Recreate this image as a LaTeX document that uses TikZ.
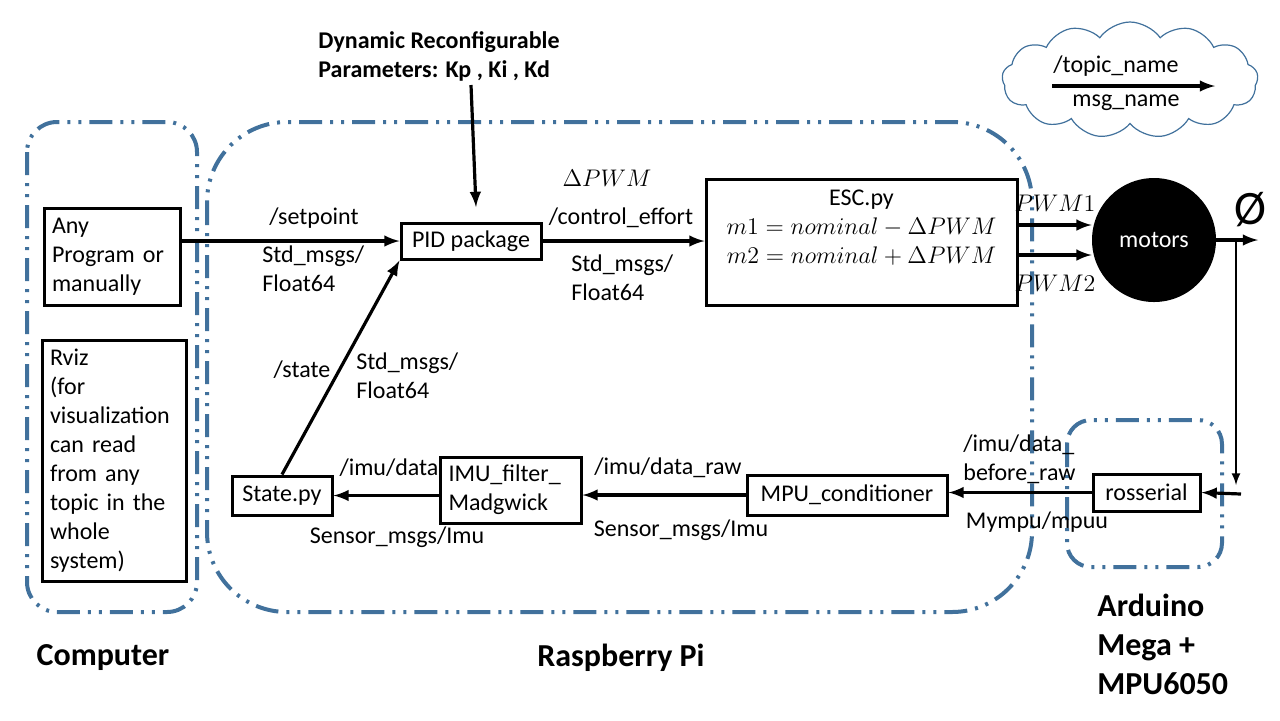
\documentclass[tikz,border=0pt]{standalone}
\usepackage{fontspec}
\setmainfont{Carlito}
\usetikzlibrary{calc,shapes.symbols}
\definecolor{frameblue}{RGB}{65,113,156}

\tikzset{
  box/.style={draw, line width=1.5pt, inner sep=2pt},
  arr/.style={-latex, line width=1.6pt},
  region/.style={draw=frameblue, line width=2pt, dash pattern=on 11.5pt off 4pt on 1.5pt off 4pt on 1.5pt off 4pt},
  lbl/.style={inner sep=0pt, align=left},
  title/.style={font=\bfseries\fontsize{16}{19.5}\selectfont, align=left, inner sep=0pt},
}

\begin{document}
\begin{tikzpicture}[x=0.5pt, y=-0.5pt, every node/.style={font=\fontsize{12}{14.5}\selectfont}]
\useasboundingbox (0,0) rectangle (1280,720);

% hardware areas
\draw[region, rounded corners=15pt] (27,122) rectangle (197,612);
\draw[region, rounded corners=40pt] (207,122) rectangle (1032,612);
\draw[region, rounded corners=12pt] (1067,420) rectangle (1222,567);

\node[title] (tComp) at (103,658) {Computer};
\node[title] (tRpi) at (621,658) {Raspberry Pi};
\node[title, anchor=west] (tArd) at (1097,644) {Arduino\\Mega +\\MPU6050};

% ros nodes
\node[box, minimum width=68pt, minimum height=48.5pt, text width=60pt, align=left] (prog) at (112,256.5) {Any\\Program or\\manually};
\node[box, minimum width=72pt, minimum height=120.5pt, text width=64pt, align=left] (rviz) at (114,460.5) {Rviz\\(for\\visualization\\can read\\from any\\topic in the\\whole\\system)};
\node[box, minimum width=70pt, minimum height=18pt] (pid) at (471,241) {PID package};
\node[box, minimum width=155.5pt, minimum height=63pt] (esc) at (861.5,242) {};
\node[align=center, inner sep=0pt] (esctxt) at (861.5,228) {ESC.py\\$m1 = nominal - \Delta PWM$\\$m2 = nominal + \Delta PWM$};
\node[circle, fill=black, minimum size=62pt, inner sep=0pt, text=white] (motors) at (1154,240) {motors};
\node[box, minimum width=50pt, minimum height=19.5pt] (state) at (282,495.5) {State.py};
\node[box, minimum width=70.5pt, minimum height=33pt, text width=62pt, align=left] (imuf) at (510.5,490) {IMU\_filter\_\\Madgwick};
\node[box, minimum width=100pt, minimum height=20pt] (mpu) at (847,495) {MPU\_conditioner};
\node[box, minimum width=53.5pt, minimum height=18.5pt] (ross) at (1146.5,492.5) {rosserial};

% legend
\node[cloud, draw=frameblue, line width=0.6pt, cloud puffs=13, cloud puff arc=110, cloud ignores aspect, minimum width=128pt, minimum height=58pt] (legend) at (1130,80) {};
\node[lbl] (topic) at (1116,66) {/topic\_name};
\node[lbl] (msg) at (1126,103) {msg\_name};
\coordinate (lgA) at (1052,86);
\coordinate (lgB) at (1215,86);
\draw[arr] (lgA) -- (lgB);

% gains
\node[font=\bfseries\fontsize{12}{14.5}\selectfont, align=left, inner sep=0pt, anchor=west] (dyn) at (318,56) {Dynamic Reconfigurable\\Parameters: Kp , Ki , Kd};
\coordinate (kgain) at (471,85);
\coordinate (pidtop) at (476,207);
\draw[arr] (kgain) -- (pidtop);

% topics
\draw[arr] (prog.east |- pid.west) -- (pid.west);
\node[lbl] (spTopic) at (314,218) {/setpoint};
\node[lbl, anchor=west] (spMsg) at (262,269) {Std\_msgs/\\Float64};

\draw[arr] (pid.east) -- (pid.east -| esc.west);
\node[lbl] (dpwm) at (607,178) {$\Delta PWM$};
\node[lbl] (ceTopic) at (621,218) {/control\_effort};
\node[lbl, anchor=west] (ceMsg) at (571,278) {Std\_msgs/\\Float64};

\coordinate (pwmA) at ($(motors.west)+(0,-15)$);
\coordinate (pwmB) at ($(motors.west)+(0,15)$);
\draw[arr] (pwmA -| esc.east) -- (pwmA);
\draw[arr] (pwmB -| esc.east) -- (pwmB);
\node[lbl] (pwm1) at (1055,203) {$PWM1$};
\node[lbl] (pwm2) at (1055,283) {$PWM2$};

\coordinate (phi) at (1258,240);
\draw[arr] (motors.east) -- (phi);
\node[lbl, font=\fontsize{24}{24}\selectfont] (phisym) at (1250,210) {Ø};
\coordinate (tap) at (1236,240);
\coordinate (drop) at (1236,485);
\draw[-latex, line width=1pt] (tap) -- (drop);
\coordinate (feed) at (1241,494);
\draw[arr] (feed) -- (ross.east);

\draw[arr] (ross.west) -- (ross.west -| mpu.east);
\node[lbl, anchor=west] (brTopic) at (963,459) {/imu/data\_\\before\_raw};
\node[lbl] (brMsg) at (1037,522) {Mympu/mpuu};

\draw[arr] (mpu.west) -- (mpu.west -| imuf.east);
\node[lbl] (irTopic) at (668,468) {/imu/data\_raw};
\node[lbl] (irMsg) at (681,530) {Sensor\_msgs/Imu};

\draw[arr] (imuf.west |- state.east) -- (state.east);
\node[lbl] (idTopic) at (389,468) {/imu/data};
\node[lbl] (idMsg) at (397,537) {Sensor\_msgs/Imu};

\draw[arr] (state.north) -- (pid.south west);
\node[lbl] (stTopic) at (302,370) {/state};
\node[lbl, anchor=west] (stMsg) at (356,376) {Std\_msgs/\\Float64};
\end{tikzpicture}
\end{document}
